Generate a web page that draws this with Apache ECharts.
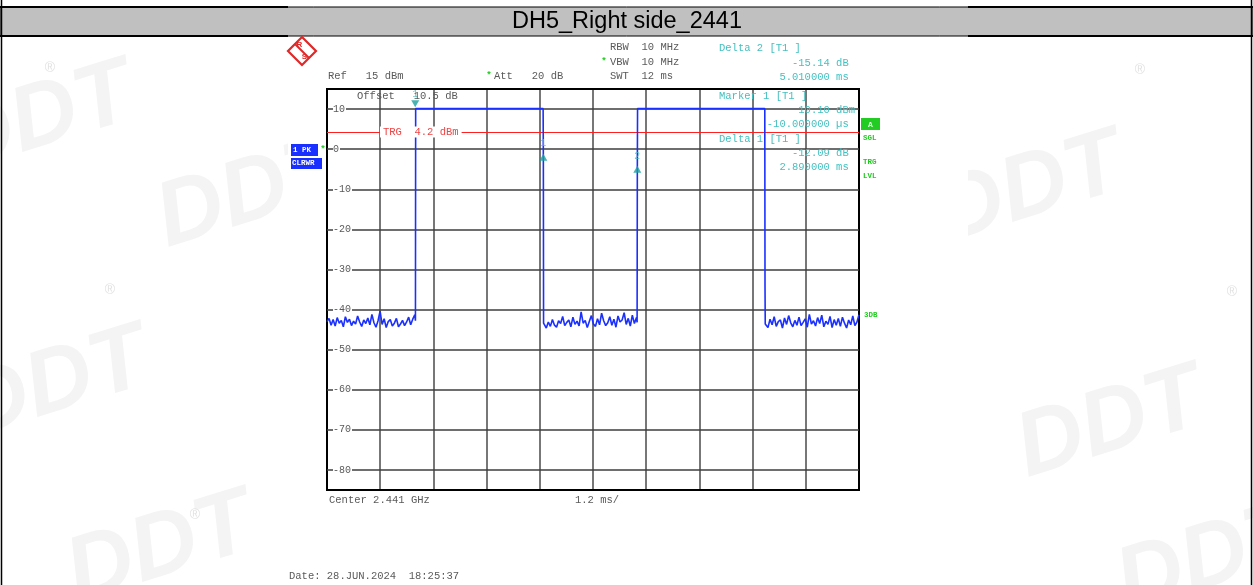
<!DOCTYPE html>
<html><head><meta charset="utf-8">
<script src="https://cdn.jsdelivr.net/npm/echarts@6/dist/echarts.min.js"></script>
<style>html,body{margin:0;padding:0;background:#fff}#c{width:1253px;height:585px}</style>
</head><body><div id="c"></div><script>
// ---- data ----
const yTickValues = [10, 0, -10, -20, -30, -40, -50, -60, -70, -80];
const yRange = [-85, 15];          // Ref 15 dBm, 10 dB/div
const xRange = [0, 12];            // SWT 12 ms, 1.2 ms/div
const xDiv = 1.2;
const trgLevel = 4.2;
const noiseA = [-43.0,-42.2,-43.9,-42.5,-44.1,-42.0,-43.4,-42.7,-44.3,-41.8,-43.2,-42.4,-44.0,-42.9,-43.6,-41.6,-43.1,-44.2,-42.6,-43.5,-42.1,-43.8,-41.2,-43.3,-44.4,-42.8,-40.4,-43.7,-42.3,-44.5,-43.0,-42.5,-44.1,-43.4,-42.2,-44.3,-43.6,-42.7,-44.0,-43.1,-41.9,-43.8,-42.4,-41.3];
const noiseB = [-43.8,-44.6,-43.1,-44.2,-42.5,-43.9,-44.4,-42.8,-43.5,-41.7,-44.0,-43.2,-42.6,-44.3,-41.9,-43.7,-42.9,-44.1,-40.6,-43.4,-42.7,-44.5,-43.0,-41.5,-43.6,-44.2,-42.3,-43.8,-40.9,-42.8,-44.0,-43.3,-41.8,-43.9,-42.4,-44.4,-41.6,-43.1,-42.6,-40.8,-43.7,-42.2,-44.1,-41.4,-43.5,-42.0];
const noiseC = [-43.9,-44.5,-42.4,-43.8,-41.8,-44.2,-43.0,-42.6,-44.6,-42.1,-43.7,-41.5,-43.3,-44.3,-42.7,-43.9,-41.9,-44.0,-43.2,-42.3,-44.4,-41.2,-43.6,-42.8,-44.1,-42.0,-43.5,-41.4,-44.3,-42.9,-43.7,-41.7,-44.5,-42.5,-43.9,-42.2,-44.2,-41.9,-43.4,-44.6,-42.6,-43.8,-41.6,-44.0,-43.1,-41.3];
const noiseSpans = [[0, 1.98], [4.90, 6.98], [9.90, 12]];
const pulseEdges1 = [[1.995,-42.8],[2.0,10.1],[4.875,10.1],[4.88,-1.99],[4.885,-43.4]];
const pulseEdges2 = [[6.995,-43.2],[7.0,-5.04],[7.005,10.1],[9.875,10.1],[9.88,-34.2],[9.885,-43.6]];
const markers = [
  {label:'1', t:1.99, v:10.10, kind:'marker'},
  {label:'1', t:4.88, v:-1.99, kind:'delta'},
  {label:'2', t:7.00, v:-5.04, kind:'delta'}
];

function seg(vals, span){
  return vals.map((v,i)=>[span[0] + i*(span[1]-span[0])/(vals.length-1), v]);
}
const trace = [].concat(seg(noiseA, noiseSpans[0]), pulseEdges1, seg(noiseB, noiseSpans[1]), pulseEdges2, seg(noiseC, noiseSpans[2]));

const MONO = '"Liberation Mono","DejaVu Sans Mono",monospace';
const GRAY = '#5a5a5a', CYAN = '#45c0c0', GREEN = '#1fcc1f', BLUE = '#1a30ff';

function t(text, x, y, opt){
  opt = opt || {};
  return {type:'text', z: opt.z||10, style:Object.assign({text:text, x:x, y:y, font:(opt.font||('10.5px '+MONO)), fill:opt.fill||GRAY, align:opt.align||'left', verticalAlign:'middle'}, opt.extra||{})};
}

const wm = [];
[[40,120],[250,195],[55,385],[160,550],[1030,190],[1110,425],[1210,560]].forEach(p=>{
  wm.push({type:'text', z:-3, x:p[0], y:p[1], rotation:0.3, style:{text:'DDT', font:'italic bold 92px "Liberation Sans",sans-serif', fill:'#f4f4f4', align:'center', verticalAlign:'middle'}});
});
[[50,68],[110,290],[195,515],[1140,70],[1232,292]].forEach(p=>{
  wm.push({type:'text', z:-3, style:{text:'®', x:p[0], y:p[1], font:'14px sans-serif', fill:'#e2e2e2', align:'center', verticalAlign:'middle'}});
});

const RED = '#e02828';
const graphics = wm.concat([
  {type:'rect', z:-1, shape:{x:288, y:36, width:680, height:549}, style:{fill:'#fff'}},
  // frame of page
  {type:'line', z:20, shape:{x1:1.5,y1:0,x2:1.5,y2:585}, style:{stroke:'#000', lineWidth:1.5}},
  {type:'line', z:20, shape:{x1:1251.5,y1:0,x2:1251.5,y2:585}, style:{stroke:'#000', lineWidth:1.5}},
  {type:'rect', z:5, shape:{x:0, y:7, width:1253, height:29}, style:{fill:'#c0c0c0', stroke:'#000', lineWidth:1}},
  {type:'line', z:6, shape:{x1:0,y1:7,x2:288,y2:7}, style:{stroke:'#000', lineWidth:2}},
  {type:'line', z:6, shape:{x1:968,y1:7,x2:1253,y2:7}, style:{stroke:'#000', lineWidth:2}},
  {type:'line', z:6, shape:{x1:0,y1:36,x2:288,y2:36}, style:{stroke:'#000', lineWidth:2}},
  {type:'line', z:6, shape:{x1:968,y1:36,x2:1253,y2:36}, style:{stroke:'#000', lineWidth:2}},
  t('DH5_Right side_2441', 627, 22, {align:'center', fill:'#000', font:'23.5px "Liberation Sans",Arial,sans-serif'}),
  // R&S logo
  {type:'polygon', z:10, shape:{points:[[302,37],[316,51],[302,65],[288,51]]}, style:{fill:'#fff', stroke:RED, lineWidth:2.2}},
  {type:'line', z:10, shape:{x1:295,y1:44,x2:309,y2:58}, style:{stroke:RED, lineWidth:2}},
  {type:'line', z:10, shape:{x1:298,y1:41,x2:312,y2:55}, style:{stroke:RED, lineWidth:0}},
  t('R', 299.5, 45, {align:'center', fill:RED, font:'bold 8px "Liberation Sans",sans-serif'}),
  t('S', 304.5, 57, {align:'center', fill:RED, font:'bold 8px "Liberation Sans",sans-serif'}),
  // header texts
  t('Ref   15 dBm', 328, 76),
  t('*', 489, 76, {fill:GREEN, font:'bold 9px '+MONO, align:'center'}),
  t('Att   20 dB', 494, 76),
  t('RBW  10 MHz', 610, 47),
  t('*', 604, 62, {fill:GREEN, font:'bold 9px '+MONO, align:'center'}),
  t('VBW  10 MHz', 610, 62),
  t('SWT  12 ms', 610, 76),
  t('Delta 2 [T1 ]', 719, 48, {fill:CYAN}),
  t('-15.14 dB ', 855, 63, {fill:CYAN, align:'right'}),
  t('5.010000 ms ', 855, 77, {fill:CYAN, align:'right'}),
  // in-plot texts
  t('Offset   10.5 dB', 357, 96),
  t('Marker 1 [T1 ]', 719, 96, {fill:CYAN}),
  t('10.10 dBm', 855, 110, {fill:CYAN, align:'right'}),
  t('-10.000000 µs ', 855, 124, {fill:CYAN, align:'right'}),
  t('Delta 1 [T1 ]', 719, 139, {fill:CYAN}),
  t('-12.09 dB ', 855, 153, {fill:CYAN, align:'right'}),
  t('2.890000 ms ', 855, 167, {fill:CYAN, align:'right'}),
  t('TRG  4.2 dBm', 380, 132, {fill:'#ee4444', extra:{backgroundColor:'#fff', padding:[0,3]}, z:12}),
  // right side status
  {type:'rect', z:10, shape:{x:861, y:118, width:19, height:12}, style:{fill:'#22cc22'}},
  t('A', 870.5, 124.5, {fill:'#e8ffe8', align:'center', font:'bold 8px '+MONO}),
  t('SGL', 863, 138, {fill:GREEN, font:'bold 7.5px '+MONO}),
  t('TRG', 863, 162, {fill:GREEN, font:'bold 7.5px '+MONO}),
  t('LVL', 863, 176, {fill:GREEN, font:'bold 7.5px '+MONO}),
  t('3DB', 864, 315, {fill:GREEN, font:'bold 7.5px '+MONO}),
  // left trace labels
  {type:'rect', z:10, shape:{x:291, y:144, width:27, height:12}, style:{fill:BLUE}},
  t('1 PK', 293, 150, {fill:'#fff', font:'bold 7.5px '+MONO}),
  t('*', 323, 150, {fill:GREEN, font:'bold 9px '+MONO, align:'center'}),
  {type:'rect', z:10, shape:{x:291, y:158, width:31, height:11}, style:{fill:BLUE}},
  t('CLRWR', 292, 163.5, {fill:'#fff', font:'bold 7.5px '+MONO}),
  // footer
  t('Center 2.441 GHz', 329, 500),
  t('1.2 ms/', 575, 500),
  t('Date: 28.JUN.2024  18:25:37', 289, 576)
]);

const chart = echarts.init(document.getElementById('c'), null, {renderer:'canvas'});
chart.setOption({
  animation:false,
  backgroundColor:'#fff',
  grid:{left:327, top:89, width:532, height:401, show:true, borderColor:'#000', borderWidth:2, backgroundColor:'transparent', z:2},
  xAxis:{type:'value', min:xRange[0], max:xRange[1], interval:xDiv,
    axisLabel:{show:false}, axisTick:{show:false}, axisLine:{show:false},
    splitLine:{show:true, lineStyle:{color:'#4a4a4a', width:1.5}}},
  yAxis:{type:'value', min:yRange[0], max:yRange[1], z:10,
    axisLine:{show:false}, axisTick:{show:false}, splitLine:{show:false},
    axisLabel:{inside:true, margin:6, customValues:yTickValues, color:GRAY, fontFamily:MONO, fontSize:10,
      backgroundColor:'#fff', padding:[0,1,0,0], formatter:v=>String(v)}},
  graphic:graphics,
  series:[
    {type:'line', name:'grid', data:[], z:1, silent:true,
      markLine:{silent:true, symbol:'none', animation:false, label:{show:false},
        lineStyle:{color:'#3e3e3e', width:1.5, type:'solid'},
        data:yTickValues.map(v=>({yAxis:v}))}},
    {type:'line', name:'trg', data:[], z:3, silent:true,
      markLine:{silent:true, symbol:'none', animation:false, label:{show:false},
        lineStyle:{color:'#ff2020', width:1.2, type:'solid'},
        data:[{yAxis:trgLevel}]}},
    {type:'line', name:'trace', data:trace, z:5, showSymbol:false, symbol:'none', silent:true,
      lineStyle:{color:BLUE, width:1.6}},
    {type:'scatter', name:'markers', z:6, silent:true,
      data:markers.map(m=>({value:[m.t, m.v], symbol:'triangle', symbolSize:[8,7],
        symbolRotate: m.kind==='marker'?180:0, symbolOffset: m.kind==='marker'?[0,-5]:[0,0],
        itemStyle:{color:'#1aa0a0'},
        label:{show:true, formatter:m.label, position:'top', distance:m.kind==='marker'?1:5, color:CYAN, fontFamily:MONO, fontSize:10}}))}
  ]
});
</script></body></html>
